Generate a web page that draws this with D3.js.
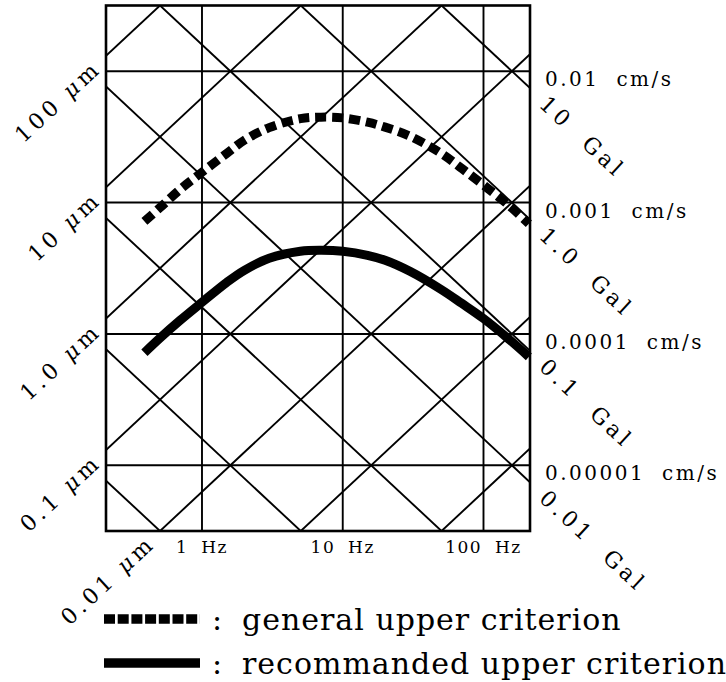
<!DOCTYPE html>
<html>
<head>
<meta charset="utf-8">
<script src="https://cdn.jsdelivr.net/npm/d3@7"></script>
<style>
  body { margin: 0; background: #fff; }
  svg text { font-family: "DejaVu Serif", serif; fill: #000; white-space: pre; }
</style>
</head>
<body>
<div class="chart"></div>
<script>
const freqs = [0.39, 0.5, 0.7, 1, 1.5, 2, 3, 5, 7, 10, 15, 20, 30, 50, 70, 100, 150, 210];
// velocity, cm/s
const generalUpper = [7.2e-4, 9.1e-4, 1.26e-3, 1.7e-3, 2.37e-3, 2.98e-3, 3.72e-3, 4.35e-3, 4.47e-3,
  4.41e-3, 4.09e-3, 3.75e-3, 3.2e-3, 2.37e-3, 1.82e-3, 1.36e-3, 9.6e-4, 6.9e-4];
const recommendedUpper = [7.2e-5, 9.25e-5, 1.27e-4, 1.74e-4, 2.47e-4, 3.05e-4, 3.77e-4, 4.26e-4, 4.33e-4,
  4.26e-4, 3.97e-4, 3.64e-4, 3.0e-4, 2.18e-4, 1.71e-4, 1.31e-4, 9.2e-5, 6.7e-5];

const freqTicks = [1, 10, 100];
const freqTickLabels = ["1 Hz", "10 Hz", "100 Hz"];
const velTicks = [0.01, 0.001, 0.0001, 0.00001];
const velTickLabels = ["0.01 cm/s", "0.001 cm/s", "0.0001 cm/s", "0.00001 cm/s"];

// constant displacement lines (cm) and constant acceleration lines (Gal)
const dispGrid = [1e-8, 1e-7, 1e-6, 1e-5, 1e-4, 1e-3, 1e-2];
const dispLabelValues = [1e-2, 1e-3, 1e-4, 1e-5, 1e-6];
const dispLabelText = ["100", "10", "1.0", "0.1", "0.01"];
const accGrid = [1e-5, 1e-4, 1e-3, 1e-2, 1e-1, 1, 10];
const accLabelValues = [10, 1, 0.1, 0.01];
const accLabelText = ["10", "1.0", "0.1", "0.01"];

const legendLabels = ["general upper criterion", "recommanded upper criterion"];

const width = 726, height = 682;
const margin = { top: 5.5, left: 106 };
const plotW = 424, plotH = 525.5;

const svg = d3.select(".chart").append("svg")
  .attr("width", width)
  .attr("height", height);

const x = d3.scaleLog().domain([0.208, 214]).range([margin.left, margin.left + plotW]);
const y = d3.scaleLog().domain([Math.pow(10, -5.5), Math.pow(10, -1.5)]).range([margin.top + plotH, margin.top]);

const twoPi = 2 * Math.PI;
const fEnds = x.domain();
const vMin = y.domain()[0];

svg.append("clipPath").attr("id", "plot-clip")
  .append("rect")
  .attr("x", margin.left).attr("y", margin.top)
  .attr("width", plotW).attr("height", plotH);

const grid = svg.append("g")
  .attr("clip-path", "url(#plot-clip)")
  .attr("stroke", "#000")
  .attr("stroke-width", 1.9)
  .attr("fill", "none");

grid.selectAll(".vline").data(freqTicks).join("line")
  .attr("x1", d => x(d)).attr("x2", d => x(d))
  .attr("y1", margin.top).attr("y2", margin.top + plotH);

grid.selectAll(".hline").data(velTicks).join("line")
  .attr("x1", margin.left).attr("x2", margin.left + plotW)
  .attr("y1", d => y(d)).attr("y2", d => y(d));

const diag = d3.line().x(d => x(d[0])).y(d => y(d[1]));

// v = 2 pi f d
grid.selectAll(".disp").data(dispGrid).join("path")
  .attr("d", d => diag(fEnds.map(f => [f, twoPi * f * d])));

// v = a / (2 pi f)
grid.selectAll(".acc").data(accGrid).join("path")
  .attr("d", a => diag(fEnds.map(f => [f, a / (twoPi * f)])));

// frame
svg.append("rect")
  .attr("x", margin.left).attr("y", margin.top)
  .attr("width", plotW).attr("height", plotH)
  .attr("fill", "none")
  .attr("stroke", "#000")
  .attr("stroke-width", 2.6);

// criteria curves
const curve = d3.line()
  .x((d, i) => x(freqs[i]))
  .y(d => y(d))
  .curve(d3.curveCatmullRom.alpha(0.5));

svg.append("path").datum(generalUpper)
  .attr("d", curve)
  .attr("fill", "none")
  .attr("stroke", "#000")
  .attr("stroke-width", 9)
  .attr("stroke-dasharray", "11,6");

svg.append("path").datum(recommendedUpper)
  .attr("d", curve)
  .attr("fill", "none")
  .attr("stroke", "#000")
  .attr("stroke-width", 9);

// frequency labels
svg.selectAll(".flabel").data(freqTicks).join("text")
  .attr("x", d => x(d))
  .attr("y", 553)
  .attr("text-anchor", "middle")
  .style("font-size", "17px")
  .style("letter-spacing", "1.5px")
  .style("word-spacing", "6px")
  .text((d, i) => freqTickLabels[i]);

// velocity labels on the right
svg.selectAll(".vlabel").data(velTicks).join("text")
  .attr("x", margin.left + plotW + 15)
  .attr("y", d => y(d) + 15)
  .style("font-size", "20px")
  .style("letter-spacing", "2.5px")
  .style("word-spacing", "8px")
  .text((d, i) => velTickLabels[i]);

// direction of the diagonals in pixels
const pxDec = plotW / Math.log10(fEnds[1] / fEnds[0]);
const pyDec = plotH / 4;
const norm = Math.hypot(pxDec, pyDec);
const angle = Math.atan2(pyDec, pxDec) * 180 / Math.PI;

// displacement labels, continuing each line past the left / bottom edge
dispLabelValues.forEach((d, i) => {
  let f = fEnds[0], v = twoPi * f * d;
  if (v < vMin) { v = vMin; f = v / (twoPi * d); }
  const gap = 12;
  const px = x(f) - gap * pxDec / norm;
  const py = y(v) + gap * pyDec / norm;
  const t = svg.append("text")
    .attr("transform", `translate(${px},${py}) rotate(${-angle})`)
    .attr("text-anchor", "end")
    .attr("dominant-baseline", "central")
    .style("font-size", "22px")
    .style("letter-spacing", "4px");
  t.append("tspan").text(dispLabelText[i] + " ");
  t.append("tspan").style("font-style", "italic").text("\u03bc");
  t.append("tspan").text("m");
});

// acceleration labels, past the right edge
accLabelValues.forEach((a, i) => {
  const f = fEnds[1], v = a / (twoPi * f);
  const gap = 18;
  const px = x(f) + gap * pxDec / norm;
  const py = y(v) + gap * pyDec / norm;
  svg.append("text")
    .attr("transform", `translate(${px},${py}) rotate(${angle})`)
    .attr("dominant-baseline", "central")
    .style("font-size", "22px")
    .style("letter-spacing", "4px")
    .text(accLabelText[i] + "  Gal");
});

// legend
const legend = svg.append("g");
const legendY = [619, 663];
legend.append("line")
  .attr("x1", 104).attr("x2", 200)
  .attr("y1", legendY[0]).attr("y2", legendY[0])
  .attr("stroke", "#000").attr("stroke-width", 9.5)
  .attr("stroke-dasharray", "11,2.7");
legend.append("line")
  .attr("x1", 104).attr("x2", 200)
  .attr("y1", legendY[1]).attr("y2", legendY[1])
  .attr("stroke", "#000").attr("stroke-width", 9.5);

legendLabels.forEach((s, i) => {
  legend.append("text")
    .attr("x", 217).attr("y", legendY[i] + 11)
    .attr("text-anchor", "middle")
    .style("font-size", "30px")
    .text(":");
  legend.append("text")
    .attr("x", 242).attr("y", legendY[i] + 11)
    .style("font-size", "30px")
    .style("letter-spacing", "1px")
    .text(s);
});
</script>
</body>
</html>
